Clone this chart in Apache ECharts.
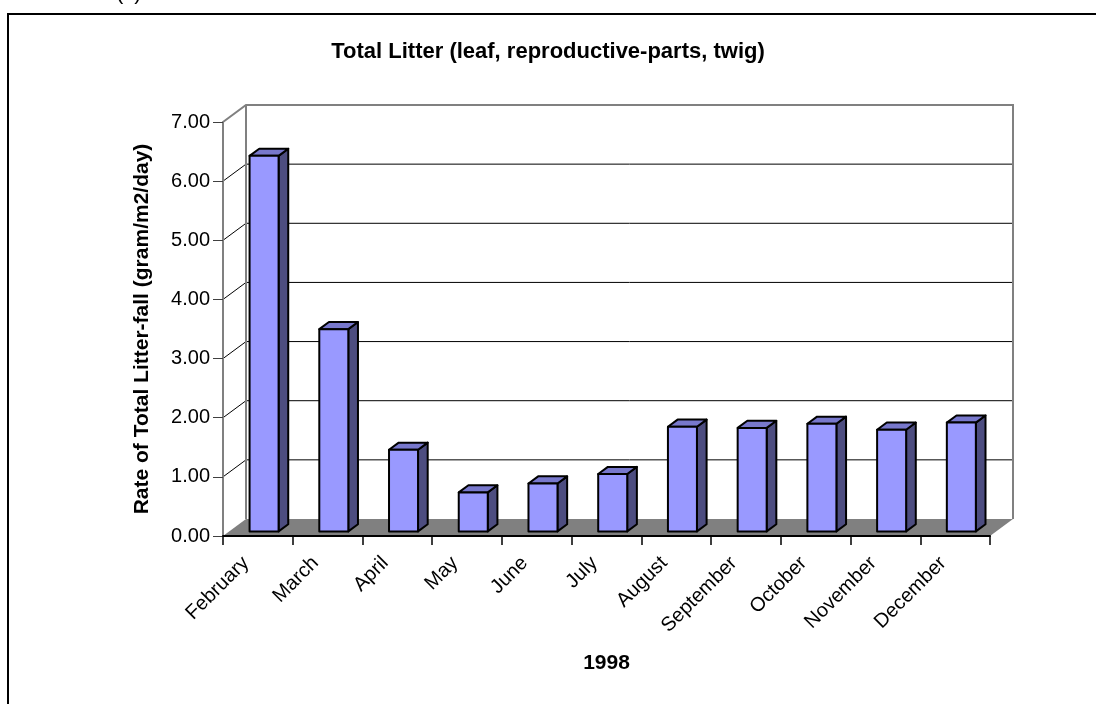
<!DOCTYPE html>
<html>
<head>
<meta charset="utf-8">
<script src="https://cdn.jsdelivr.net/npm/echarts@6/dist/echarts.min.js"></script>
<style>
  html, body { margin: 0; padding: 0; background: #fff; }
  #chart { width: 1096px; height: 704px; }
</style>
</head>
<body>
<div id="chart"></div>
<script>
// Monthly litter-fall, 1998
const months = ['February', 'March', 'April', 'May', 'June', 'July', 'August', 'September', 'October', 'November', 'December'];
const litterRate = [6.35, 3.42, 1.38, 0.66, 0.81, 0.97, 1.77, 1.75, 1.82, 1.72, 1.84];
const yMin = 0;
const yMax = 7;
const yStep = 1;
const yearLabel = '1998';
const chartTitle = 'Total Litter (leaf, reproductive-parts, twig)';
const yAxisTitle = 'Rate of Total Litter-fall (gram/m2/day)';

const FONT = '"Liberation Sans", Arial, sans-serif';

// oblique projection of the box depth
const DEPTH_X = 23;
const DEPTH_Y = -17;
const BAR_FRONT = 0.27;   // depth fraction of the bar front face
const BAR_BACK = 0.69;    // depth fraction of the bar back face
const BAR_WIDTH = 0.416;  // share of category band

const chart = echarts.init(document.getElementById('chart'), null, { renderer: 'canvas' });

// walls, floor and gridlines of the 3D box
function renderFrame(params, api) {
  const cs = params.coordSys;
  const L = cs.x, R = cs.x + cs.width, B = cs.y + cs.height;
  const yTop = api.coord([0, yMax])[1];
  const children = [];
  children.push({
    type: 'polygon',
    shape: { points: [[L, B], [R, B], [R + DEPTH_X, B + DEPTH_Y], [L + DEPTH_X, B + DEPTH_Y]] },
    style: { fill: '#808080', stroke: null }
  });
  for (let t = yMin + yStep; t < yMax; t += yStep) {
    const y = api.coord([0, t])[1];
    children.push({
      type: 'line',
      shape: { x1: L + DEPTH_X, y1: y + DEPTH_Y, x2: R + DEPTH_X, y2: y + DEPTH_Y },
      style: { stroke: '#000', lineWidth: 1 }
    });
    children.push({
      type: 'line',
      shape: { x1: L, y1: y, x2: L + DEPTH_X, y2: y + DEPTH_Y },
      style: { stroke: '#000', lineWidth: 1 }
    });
  }
  children.push({
    type: 'polyline',
    shape: { points: [[L, yTop], [L + DEPTH_X, yTop + DEPTH_Y], [R + DEPTH_X, yTop + DEPTH_Y], [R + DEPTH_X, B + DEPTH_Y]] },
    style: { stroke: '#808080', lineWidth: 2, fill: null }
  });
  children.push({
    type: 'line',
    shape: { x1: L + DEPTH_X, y1: yTop + DEPTH_Y, x2: L + DEPTH_X, y2: B + DEPTH_Y },
    style: { stroke: '#808080', lineWidth: 2 }
  });
  return { type: 'group', children: children };
}

// one 3D column per month
function renderBar(params, api) {
  const i = api.value(0);
  const v = api.value(1);
  const band = api.size([1, 0])[0];
  const base = api.coord([i, 0]);
  const top = api.coord([i, v]);
  const hw = band * BAR_WIDTH / 2;
  const fx = DEPTH_X * BAR_FRONT, fy = DEPTH_Y * BAR_FRONT;
  const bx = DEPTH_X * (BAR_BACK - BAR_FRONT), by = DEPTH_Y * (BAR_BACK - BAR_FRONT);
  const xl = base[0] - hw + fx, xr = base[0] + hw + fx;
  const yb = base[1] + fy, yt = top[1] + fy;
  const edge = { stroke: '#000', lineWidth: 2, lineJoin: 'round' };
  return {
    type: 'group',
    children: [
      { type: 'polygon', shape: { points: [[xr, yt], [xr + bx, yt + by], [xr + bx, yb + by], [xr, yb]] },
        style: Object.assign({ fill: '#4D4D80' }, edge) },
      { type: 'polygon', shape: { points: [[xl, yt], [xr, yt], [xr + bx, yt + by], [xl + bx, yt + by]] },
        style: Object.assign({ fill: '#7878CC' }, edge) },
      { type: 'rect', shape: { x: xl, y: yt, width: xr - xl, height: yb - yt },
        style: Object.assign({ fill: '#9999FF' }, edge) }
    ]
  };
}

const option = {
  backgroundColor: '#fff',
  animation: false,
  title: {
    text: chartTitle,
    left: 'center',
    top: 36,
    textStyle: { fontFamily: FONT, fontSize: 22, fontWeight: 'bold', color: '#000' }
  },
  graphic: [
    { type: 'rect', z: -10, shape: { x: 8, y: 14, width: 1200, height: 800 },
      style: { fill: null, stroke: '#000', lineWidth: 2 } },
    { type: 'text', x: 116, y: -18,
      style: { text: '(c)', font: '22px ' + FONT, fill: '#000' } }
  ],
  grid: { left: 223, right: 106, top: 122, bottom: 168, containLabel: false },
  xAxis: {
    type: 'category',
    data: months,
    boundaryGap: true,
    name: yearLabel,
    nameLocation: 'middle',
    nameGap: 117,
    nameTextStyle: { fontFamily: FONT, fontSize: 21, fontWeight: 'bold', color: '#000' },
    axisLine: { show: true, lineStyle: { color: '#000', width: 2 } },
    axisTick: { show: true, length: 9, lineStyle: { color: '#000', width: 1.5 } },
    axisLabel: { interval: 0, rotate: 45, margin: 12, padding: [0, 17, 0, 0],
      fontFamily: FONT, fontSize: 20, color: '#000' },
    splitLine: { show: false },
    z: 3
  },
  yAxis: {
    type: 'value',
    min: yMin,
    max: yMax,
    interval: yStep,
    name: yAxisTitle,
    nameLocation: 'middle',
    nameGap: 70,
    nameTextStyle: { fontFamily: FONT, fontSize: 21, fontWeight: 'bold', color: '#000' },
    axisLine: { show: true, lineStyle: { color: '#808080', width: 2 } },
    axisTick: { show: true, length: 10, lineStyle: { color: '#404040', width: 1 } },
    axisLabel: { margin: 13, fontFamily: FONT, fontSize: 20, color: '#000',
      formatter: function (v) { return v.toFixed(2); } },
    splitLine: { show: false },
    z: 3
  },
  series: [
    {
      type: 'custom',
      name: 'frame',
      renderItem: renderFrame,
      data: [[0, 0]],
      silent: true,
      z: 1
    },
    {
      type: 'custom',
      name: 'Total litter',
      renderItem: renderBar,
      encode: { x: 0, y: 1 },
      data: litterRate.map(function (v, i) { return [i, v]; }),
      z: 5
    }
  ]
};

chart.setOption(option);
</script>
</body>
</html>
